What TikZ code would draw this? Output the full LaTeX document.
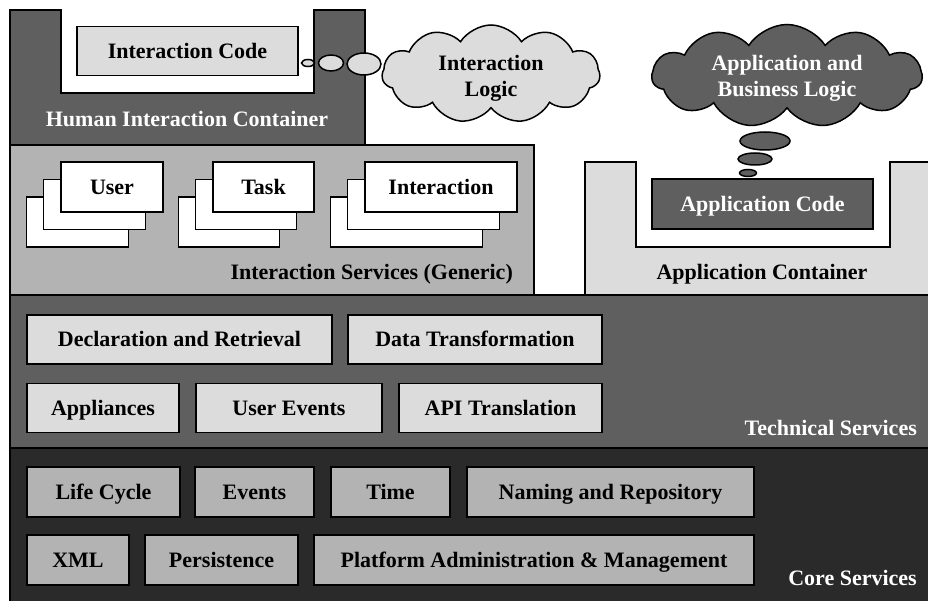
\documentclass[tikz,border=0pt]{standalone}
\usepackage{fontspec}
\setmainfont{Liberation Serif}
\usetikzlibrary{shapes.symbols}

\definecolor{darkgr}{HTML}{5F5F5F}
\definecolor{lightgr}{HTML}{DCDCDC}
\definecolor{midgr}{HTML}{B3B3B3}
\definecolor{coregr}{HTML}{2A2A2A}

\tikzset{
  edge/.style={draw, line width=1.5pt},
  box/.style={edge, minimum height=49pt, inner sep=0pt, text height=14.5pt, text depth=0pt,
    font=\bfseries\fontsize{22}{26}\selectfont},
  lbl/.style={inner sep=0pt, text height=14.5pt, text depth=0pt,
    font=\bfseries\fontsize{22}{26}\selectfont},
  thought/.style={edge, cloud, cloud puffs=11, cloud puff arc=115, inner sep=0pt, cloud ignores aspect},
  thoughttext/.style={inner sep=0pt, align=center, font=\bfseries\fontsize{22}{26}\selectfont}
}

\begin{document}
\begin{tikzpicture}[x=1pt, y=-1pt]
  \clip (0,0) rectangle (928,601);
  % containers
  \draw[edge, fill=darkgr] (10,10) -- (61,10) -- (61,93) -- (314,93) -- (314,10)
    -- (365,10) -- (365,145) -- (10,145) -- cycle;
  \node[lbl, text=white] (hic) at (187,119) {Human Interaction Container};
  \node[box, fill=lightgr, minimum width=221pt] (icode) at (187.5,51) {Interaction Code};

  \draw[edge, fill=lightgr] (585,162) -- (636,162) -- (636,247) -- (890,247) -- (890,162)
    -- (940,162) -- (940,295) -- (585,295) -- cycle;
  \node[lbl] (appcont) at (762,272) {Application Container};
  \node[box, fill=darkgr, text=white, minimum width=221pt, minimum height=50pt] (appcode) at (762.5,204) {Application Code};

  % interaction services
  \draw[edge, fill=midgr] (10,145) rectangle (534,295);
  \node[lbl, anchor=east] (intserv) at (513,272) {Interaction Services (Generic)};
  \node[box, fill=white, minimum width=102pt, minimum height=50pt] (user3) at (77.5,222) {};
  \node[box, fill=white, minimum width=102pt, minimum height=50pt] (user2) at (94.5,204.5) {};
  \node[box, fill=white, minimum width=102pt, minimum height=50pt] (user) at (112,187) {User};
  \node[box, fill=white, minimum width=101pt, minimum height=50pt] (task3) at (229,222) {};
  \node[box, fill=white, minimum width=101pt, minimum height=50pt] (task2) at (246,204.5) {};
  \node[box, fill=white, minimum width=101pt, minimum height=50pt] (task) at (263.5,187) {Task};
  \node[box, fill=white, minimum width=152pt, minimum height=50pt] (inter3) at (406.5,222) {};
  \node[box, fill=white, minimum width=152pt, minimum height=50pt] (inter2) at (423.5,204.5) {};
  \node[box, fill=white, minimum width=152pt, minimum height=50pt] (inter) at (441,187) {Interaction};

  % technical services
  \draw[edge, fill=darkgr] (10,295) rectangle (940,448);
  \node[lbl, text=white, anchor=east] (techserv) at (917,428) {Technical Services};
  \node[box, fill=lightgr, minimum width=305pt] (declret) at (179.5,339.5) {Declaration and Retrieval};
  \node[box, fill=lightgr, minimum width=254pt] (datatrans) at (475,339.5) {Data Transformation};
  \node[box, fill=lightgr, minimum width=152pt] (appliances) at (103,408) {Appliances};
  \node[box, fill=lightgr, minimum width=186pt] (userevents) at (289,408) {User Events};
  \node[box, fill=lightgr, minimum width=203pt] (apitrans) at (500.5,408) {API Translation};

  % core services
  \draw[edge, fill=coregr] (10,448) rectangle (940,612);
  \node[lbl, text=white, anchor=east] (coreserv) at (917,578) {Core Services};
  \node[box, fill=midgr, minimum width=153pt, minimum height=50pt] (lifecycle) at (103.5,492) {Life Cycle};
  \node[box, fill=midgr, minimum width=119pt, minimum height=50pt] (events) at (254.5,492) {Events};
  \node[box, fill=midgr, minimum width=119pt, minimum height=50pt] (time) at (390.5,492) {Time};
  \node[box, fill=midgr, minimum width=287pt, minimum height=50pt] (naming) at (610.5,492) {Naming and Repository};
  \node[box, fill=midgr, minimum width=102pt, minimum height=50pt] (xml) at (78,560) {XML};
  \node[box, fill=midgr, minimum width=153pt, minimum height=50pt] (persist) at (221.5,560) {Persistence};
  \node[box, fill=midgr, minimum width=440pt, minimum height=50pt] (platform) at (534,560) {Platform Administration \& Management};

  % thoughts
  \draw[edge, fill=lightgr] (308,63) ellipse (6.5 and 3.5);
  \draw[edge, fill=lightgr] (331,63) ellipse (12.5 and 8);
  \draw[edge, fill=lightgr] (364,64) ellipse (17 and 11);
  \node[thought, fill=lightgr, minimum width=218pt, minimum height=98pt] (ilogic) at (491,74) {};
  \node[thoughttext] (ilogictext) at ([yshift=-4pt]ilogic.center) {Interaction\\Logic};

  \draw[edge, fill=darkgr] (748,173) ellipse (8.5 and 3.5);
  \draw[edge, fill=darkgr] (755,159) ellipse (17 and 6);
  \draw[edge, fill=darkgr] (765,141) ellipse (25 and 9);
  \node[thought, fill=darkgr, minimum width=270pt, minimum height=103pt] (alogic) at (787,76) {};
  \node[thoughttext, text=white] (alogictext) at ([yshift=-2pt]alogic.center) {Application and\\Business Logic};
\end{tikzpicture}
\end{document}
